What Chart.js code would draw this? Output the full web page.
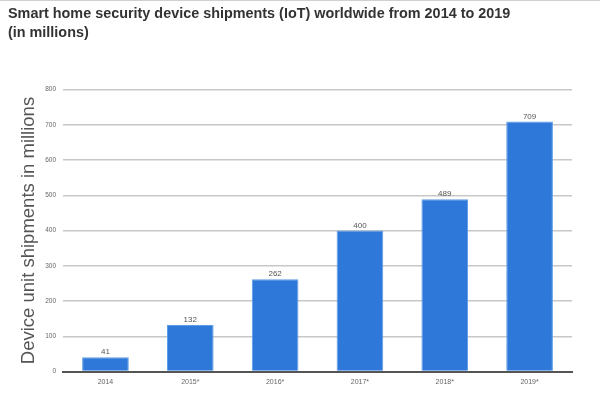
<!DOCTYPE html>
<html>
<head>
<meta charset="utf-8">
<script src="https://cdn.jsdelivr.net/npm/chart.js@4/dist/chart.umd.min.js"></script>
<style>
  html, body { margin: 0; padding: 0; background: #fff; }
  #wrap { width: 600px; height: 393px; position: relative; border-top: 1px solid #cfcfcf; box-sizing: border-box; }
</style>
</head>
<body>
<div id="wrap"><canvas id="shipments-chart"></canvas></div>
<script>
var years = ['2014', '2015*', '2016*', '2017*', '2018*', '2019*'];
var shipments = [41, 132, 262, 400, 489, 709];
var yTicks = [0, 100, 200, 300, 400, 500, 600, 700, 800];

var barLabels = {
  id: 'barLabels',
  afterDatasetsDraw: function (chart) {
    var ctx = chart.ctx;
    var meta = chart.getDatasetMeta(0);
    ctx.save();
    ctx.font = '8px "Liberation Sans", Arial, sans-serif';
    ctx.fillStyle = '#555';
    ctx.textAlign = 'center';
    ctx.textBaseline = 'bottom';
    meta.data.forEach(function (bar, i) {
      ctx.fillText(shipments[i], bar.x, bar.y - 1);
    });
    ctx.restore();
  }
};

document.addEventListener("DOMContentLoaded", function () {
  var ctx = document.getElementById('shipments-chart').getContext('2d');

  new Chart(ctx, {
    type: 'bar',
    data: {
      labels: years,
      datasets: [{
        label: 'Shipments',
        data: shipments,
        backgroundColor: '#2d78d9',
        borderColor: '#5c9be6',
        borderWidth: 1,
        barPercentage: 0.55,
        categoryPercentage: 1
      }]
    },
    options: {
      responsive: true,
      maintainAspectRatio: false,
      animation: false,
      layout: { padding: { left: 8, right: 28, top: 4, bottom: 1 } },
      plugins: {
        legend: { display: false },
        tooltip: { enabled: false },
        title: {
          display: true,
          align: 'start',
          text: ['Smart home security device shipments (IoT) worldwide from 2014 to 2019', '(in millions)'],
          color: '#333',
          font: { family: '"Liberation Sans", Arial, sans-serif', size: 14.4, weight: 'bold', lineHeight: 1.3 },
          padding: { top: 0, bottom: 47 }
        }
      },
      scales: {
        x: {
          grid: { display: false, drawTicks: false },
          border: { color: '#555', width: 2 },
          ticks: { color: '#666', font: { family: '"Liberation Sans", Arial, sans-serif', size: 7 }, padding: 6 }
        },
        y: {
          min: 0,
          max: 800,
          afterBuildTicks: function (axis) {
            axis.ticks = yTicks.map(function (v) { return { value: v }; });
          },
          grid: { color: '#c8c8c8', lineWidth: 1.5, drawTicks: true, tickLength: 6, tickColor: '#fff' },
          border: { display: false },
          ticks: { color: '#666', font: { family: '"Liberation Sans", Arial, sans-serif', size: 6.5 }, padding: 1 },
          title: {
            display: true,
            text: 'Device unit shipments in millions',
            color: '#555',
            font: { family: '"Liberation Sans", Arial, sans-serif', size: 18.5 },
            padding: { top: 10, bottom: 4 }
          }
        }
      }
    },
    plugins: [barLabels]
  });
});
</script>
</body>
</html>
